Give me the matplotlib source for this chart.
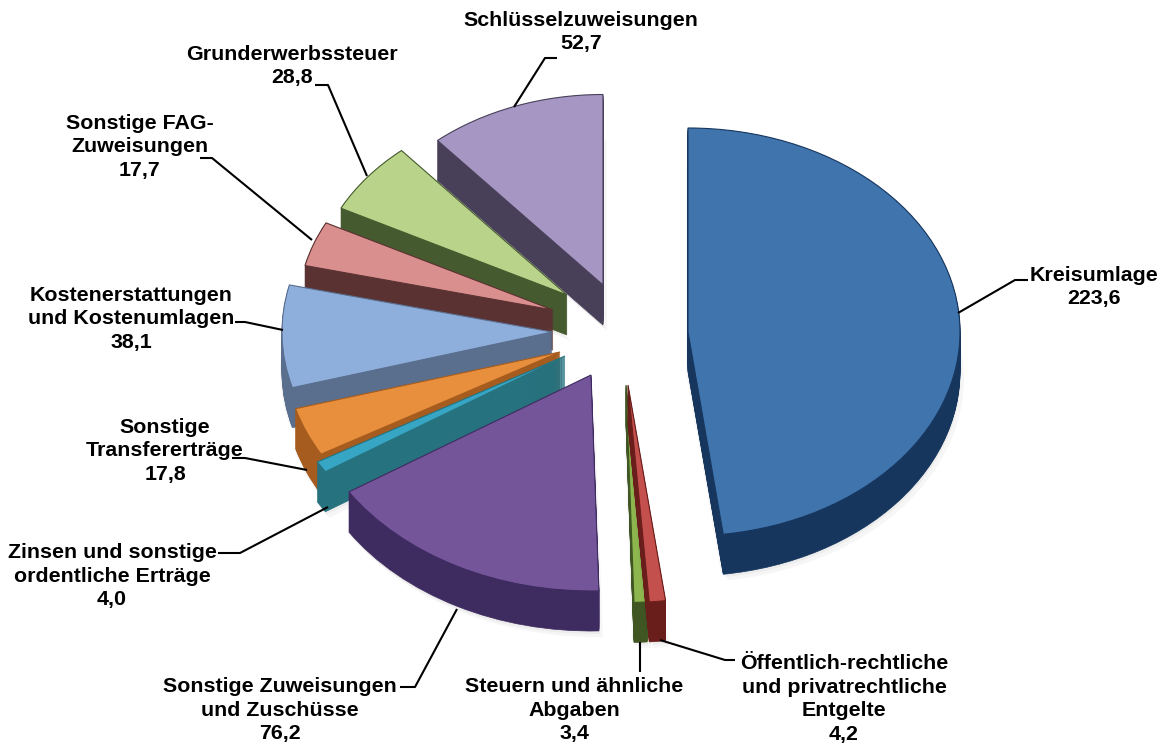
import matplotlib
matplotlib.use("Agg")
import matplotlib.pyplot as plt

plt.rcParams['font.family'] = ['Liberation Sans', 'DejaVu Sans']

# values, clockwise from the top
names = ['Kreisumlage', 'Öffentlich-rechtliche\nund privatrechtliche\nEntgelte', 'Steuern und ähnliche\nAbgaben',
         'Sonstige Zuweisungen\nund Zuschüsse', 'Zinsen und sonstige\nordentliche Erträge', 'Sonstige\nTransfererträge',
         'Kostenerstattungen\nund Kostenumlagen', 'Sonstige FAG-\nZuweisungen', 'Grunderwerbssteuer', 'Schlüsselzuweisungen']
values = [223.6, 4.2, 3.4, 76.2, 4.0, 17.8, 38.1, 17.7, 28.8, 52.7]
value_labels = ['223,6', '4,2', '3,4', '76,2', '4,0', '17,8', '38,1', '17,7', '28,8', '52,7']

top_colors = ['#3f74ad', '#c4504d', '#8db74e', '#75559a', '#37a5c4', '#e78f3c', '#8eaedb', '#d98f8e', '#b9d48a', '#a596c4']
side_colors = ['#17365e', '#6a1e1c', '#3f5623', '#3e2b60', '#27727f', '#a65c1e', '#5a6e8e', '#5b3232', '#455a2e', '#484058']

# layout in pixels of the picture: tip of each slice, radius, depth
tips = [(688, 332), (628, 385), (626, 385), (591, 375), (565, 356), (560, 352), (552, 332), (553, 310), (567, 295), (603, 285)]
radii = [272, 290, 290, 288, 285, 275, 270, 255, 254, 254]
depth = 40
squash = 0.75
draw_order = [9, 8, 7, 6, 5, 4, 3, 0, 2, 1]

label_pos = [(1094, 287), (844, 699), (574, 710), (280, 710), (112, 576), (165, 451), (131, 319), (140, 147), (292, 66), (581, 32)]
leaders = [[(958, 313), (1015, 280), (1028, 280)],
           [(660, 640), (725, 660), (735, 660)],
           [(640, 642), (640, 672)],
           [(457, 609), (415, 687), (400, 687)],
           [(328, 507), (240, 553), (218, 553)],
           [(307, 470), (245, 458), (232, 458)],
           [(283, 330), (245, 322), (235, 322)],
           [(312, 240), (212, 158), (200, 158)],
           [(367, 176), (328, 85), (315, 85)],
           [(514, 107), (545, 58), (557, 58)]]

W, H = 1162, 744
total = sum(values)


def to_data(px, py):
    return px, (H - py) / squash


def draw_slice(ax, i, dx=0, dy=0, color=None, edge='none', lw=0, alpha=None):
    # one pie per slice, the rest of the circle stays invisible
    start = sum(values[:i])
    angle = 90 - start / total * 360
    cx, cy = to_data(tips[i][0] + dx, tips[i][1] + dy)
    wedges, _ = ax.pie([values[i], total - values[i]], startangle=angle, counterclock=False,
                       radius=radii[i], center=(cx, cy), colors=[color, 'none'],
                       wedgeprops={'linewidth': 0})
    wedges[0].set_edgecolor(edge)
    wedges[0].set_linewidth(lw)
    if alpha is not None:
        wedges[0].set_alpha(alpha)
    wedges[1].set_visible(False)
    return wedges[0]


fig = plt.figure(figsize=(W / 100, H / 100), dpi=100)
ax = fig.add_axes([0, 0, 1, 1])

for i in draw_order:
    # soft shadow
    for off in (3, 6, 9):
        draw_slice(ax, i, dx=off - 5, dy=depth + off - 3, color='#000000', alpha=0.035)
    for d in range(depth, 0, -1):
        draw_slice(ax, i, dy=d, color=side_colors[i], edge=side_colors[i], lw=0.5)
    draw_slice(ax, i, color=top_colors[i], edge=side_colors[i], lw=0.8)

for pts in leaders:
    xs = [to_data(*p)[0] for p in pts]
    ys = [to_data(*p)[1] for p in pts]
    ax.plot(xs, ys, color='black', lw=1.5, solid_capstyle='butt', zorder=5)

for name, val, pos in zip(names, value_labels, label_pos):
    x, y = to_data(*pos)
    ax.text(x, y, name + '\n' + val, ha='center', va='center', multialignment='center',
            fontsize=15.4, fontweight='bold', linespacing=1.3, zorder=6)

ax.set_aspect('auto')
ax.set_xlim(0, W)
ax.set_ylim(0, H / squash)
ax.axis('off')
fig.savefig('out.png', dpi=100)
